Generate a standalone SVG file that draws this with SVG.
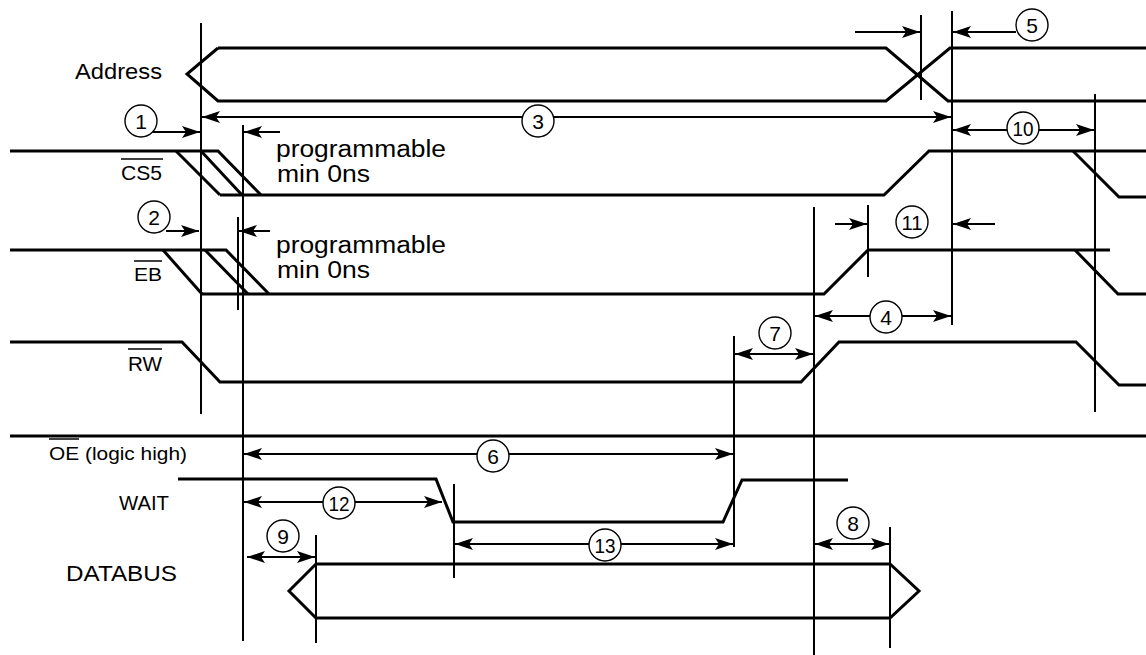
<svg xmlns="http://www.w3.org/2000/svg" width="1146" height="655" viewBox="0 0 1146 655">
<style>
.sig{fill:none;stroke:#000;stroke-width:3;stroke-linejoin:miter}
.vl{stroke:#000;stroke-width:2}
.ar{stroke:#000;stroke-width:2;fill:none}
.both{marker-start:url(#ah);marker-end:url(#ah)}
.one{marker-end:url(#ah)}
.cir{fill:#fff;stroke:#000;stroke-width:1.4}
.num{font-family:"Liberation Sans",Arial,sans-serif;font-size:21px;text-anchor:middle;fill:#000}
.lbl{font-family:"Liberation Sans",Arial,sans-serif;fill:#000}
.ov{stroke:#000;stroke-width:1.5}
</style>
<defs>
<marker id="ah" markerUnits="userSpaceOnUse" markerWidth="18" markerHeight="12" refX="18" refY="6" orient="auto-start-reverse">
<path d="M0,0 L18,6 L0,12 L4,6 Z" fill="#000"/>
</marker>
</defs>
<rect width="1146" height="655" fill="#fff"/>

<g id="address">
<text class="lbl" x="75" y="79" font-size="22" textLength="87" lengthAdjust="spacingAndGlyphs">Address</text>
<path class="sig" d="M218,48 L187,74 L218,101 L886,101 L950,48 L1146,48"/>
<path class="sig" d="M218,48 L886,48 L948,101 L1146,101"/>
</g>

<g id="cs5">
<text class="lbl" x="121" y="180" font-size="20" textLength="41" lengthAdjust="spacingAndGlyphs">CS5</text>
<line class="ov" x1="121" y1="159" x2="163" y2="159"/>
<path class="sig" d="M10,151 L218,151 L261,195"/>
<path class="sig" d="M176,151 L220,195"/>
<path class="sig" d="M201,151 L242,195"/>
<path class="sig" d="M220,195 L884,195 L929,151 L1146,151"/>
<path class="sig" d="M1073,151 L1119,197 L1146,197"/>
</g>

<g id="eb">
<text class="lbl" x="134" y="281" font-size="19" textLength="28" lengthAdjust="spacingAndGlyphs">EB</text>
<line class="ov" x1="134" y1="261" x2="162" y2="261"/>
<path class="sig" d="M10,250 L226,250 L269,294"/>
<path class="sig" d="M163,250 L202,294"/>
<path class="sig" d="M205,250 L248,294"/>
<path class="sig" d="M202,294 L824,294 L868,250 L1110,250"/>
<path class="sig" d="M1075,250 L1118,294 L1146,294"/>
</g>

<g id="rw">
<text class="lbl" x="128" y="371" font-size="20" textLength="34" lengthAdjust="spacingAndGlyphs">RW</text>
<line class="ov" x1="128" y1="349" x2="162" y2="349"/>
<path class="sig" d="M10,342 L182,342 L220,382 L801,382 L839,342 L1076,342 L1119,385 L1146,385"/>
</g>

<g id="oe">
<text class="lbl" x="49" y="460" font-size="19" textLength="138" lengthAdjust="spacingAndGlyphs">OE (logic high)</text>
<line class="ov" x1="49" y1="439" x2="79" y2="439"/>
<line class="sig" x1="10" y1="436" x2="1146" y2="436"/>
</g>

<g id="wait">
<text class="lbl" x="119" y="510" font-size="20" textLength="50" lengthAdjust="spacingAndGlyphs">WAIT</text>
<path class="sig" d="M178,479 L436,479 L453,522 L723,522 L742,480 L848,480"/>
</g>

<g id="databus">
<text class="lbl" x="66" y="581" font-size="22" textLength="111" lengthAdjust="spacingAndGlyphs">DATABUS</text>
<path class="sig" d="M316,564 L289,591 L316,618 L890,618 L919,591 L890,564 Z"/>
</g>

<g id="connectors">
<line class="vl" x1="201" y1="23" x2="201" y2="414"/>
<line class="vl" x1="243" y1="125" x2="243" y2="641"/>
<line class="vl" x1="238" y1="217" x2="238" y2="310" stroke-width="1.5"/>
<line class="vl" x1="921" y1="15" x2="921" y2="100"/>
<line class="vl" x1="952" y1="11" x2="952" y2="325"/>
<line class="vl" x1="1095" y1="94" x2="1095" y2="412"/>
<line class="vl" x1="814" y1="207" x2="814" y2="655"/>
<line class="vl" x1="868" y1="205" x2="868" y2="277"/>
<line class="vl" x1="734" y1="336" x2="734" y2="547"/>
<line class="vl" x1="454" y1="484" x2="454" y2="578"/>
<line class="vl" x1="316" y1="535" x2="316" y2="643"/>
<line class="vl" x1="890" y1="527" x2="890" y2="648"/>

<line class="ar both" x1="202" y1="117" x2="951" y2="117"/>
<line class="ar one" x1="153" y1="132" x2="200" y2="132"/>
<line class="ar one" x1="280" y1="132" x2="244" y2="132"/>
<line class="ar one" x1="166" y1="231" x2="199" y2="231"/>
<line class="ar one" x1="270" y1="231" x2="239" y2="231"/>
<line class="ar both" x1="815" y1="316" x2="951" y2="316"/>
<line class="ar one" x1="835" y1="224" x2="867" y2="224"/>
<line class="ar one" x1="995" y1="224" x2="953" y2="224"/>
<line class="ar both" x1="735" y1="354" x2="813" y2="354"/>
<line class="ar one" x1="855" y1="32" x2="920" y2="32"/>
<line class="ar one" x1="1016" y1="32" x2="953" y2="32"/>
<line class="ar both" x1="953" y1="130" x2="1094" y2="130"/>
<line class="ar both" x1="244" y1="454" x2="733" y2="454"/>
<line class="ar both" x1="244" y1="502" x2="442" y2="502"/>
<line class="ar both" x1="247" y1="557" x2="315" y2="557"/>
<line class="ar both" x1="455" y1="544" x2="733" y2="544"/>
<line class="ar both" x1="815" y1="544" x2="889" y2="544"/>

<circle class="cir" cx="141" cy="121" r="16"/><text class="num" x="141" y="128.5">1</text>
<circle class="cir" cx="154" cy="217" r="16"/><text class="num" x="154" y="224.5">2</text>
<circle class="cir" cx="538" cy="121" r="16"/><text class="num" x="538" y="128.5">3</text>
<circle class="cir" cx="886" cy="317" r="16"/><text class="num" x="886" y="324.5">4</text>
<circle class="cir" cx="1032" cy="25" r="16"/><text class="num" x="1032" y="32.5">5</text>
<circle class="cir" cx="493" cy="456" r="16"/><text class="num" x="493" y="463.5">6</text>
<circle class="cir" cx="775" cy="333" r="16"/><text class="num" x="775" y="340.5">7</text>
<circle class="cir" cx="853" cy="523" r="16"/><text class="num" x="853" y="530.5">8</text>
<circle class="cir" cx="283" cy="536" r="16"/><text class="num" x="283" y="543.5">9</text>
<circle class="cir" cx="1023" cy="128" r="16"/><text class="num" x="1023" y="135.5" textLength="21" lengthAdjust="spacingAndGlyphs">10</text>
<circle class="cir" cx="912" cy="222" r="16"/><text class="num" x="912" y="229.5" textLength="21" lengthAdjust="spacingAndGlyphs">11</text>
<circle class="cir" cx="339" cy="503" r="16"/><text class="num" x="339" y="510.5" textLength="21" lengthAdjust="spacingAndGlyphs">12</text>
<circle class="cir" cx="605" cy="545" r="16"/><text class="num" x="605" y="552.5" textLength="21" lengthAdjust="spacingAndGlyphs">13</text>

<text class="lbl" x="276" y="157" font-size="23" textLength="170" lengthAdjust="spacingAndGlyphs">programmable</text>
<text class="lbl" x="277" y="182" font-size="23" textLength="93" lengthAdjust="spacingAndGlyphs">min 0ns</text>
<text class="lbl" x="276" y="253" font-size="23" textLength="170" lengthAdjust="spacingAndGlyphs">programmable</text>
<text class="lbl" x="277" y="278" font-size="23" textLength="93" lengthAdjust="spacingAndGlyphs">min 0ns</text>
</g>
</svg>
